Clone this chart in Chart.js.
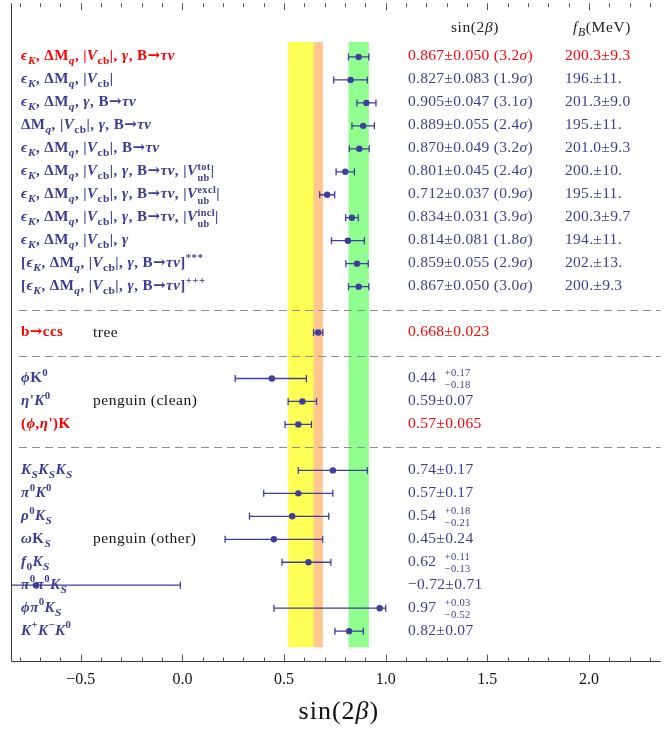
<!DOCTYPE html>
<html><head><meta charset="utf-8">
<script src="https://cdn.jsdelivr.net/npm/chart.js@4/dist/chart.umd.min.js"></script>
<style>html,body{margin:0;padding:0;background:#fff;}#wrap{width:664px;height:735px;position:relative;}</style>
</head><body><div id="wrap"><canvas id="c" width="664" height="735"></canvas></div>
<script>
// ---------- DATA ----------
const rowIndex = [0,1,2,3,4,5,6,7,8,9,10,12,14,15,16,18,19,20,21,22,23,24,25];
const labels = [
  "$ϵ$_{$K$}, ΔM_{$q$}, |$V$_{cb}|, $γ$, B→$τν$",
  "$ϵ$_{$K$}, ΔM_{$q$}, |$V$_{cb}|",
  "$ϵ$_{$K$}, ΔM_{$q$}, $γ$, B→$τν$",
  "ΔM_{$q$}, |$V$_{cb}|, $γ$, B→$τν$",
  "$ϵ$_{$K$}, ΔM_{$q$}, |$V$_{cb}|, B→$τν$",
  "$ϵ$_{$K$}, ΔM_{$q$}, |$V$_{cb}|, $γ$, B→$τν$, |$V$_^{ub|tot}|",
  "$ϵ$_{$K$}, ΔM_{$q$}, |$V$_{cb}|, $γ$, B→$τν$, |$V$_^{ub|excl}|",
  "$ϵ$_{$K$}, ΔM_{$q$}, |$V$_{cb}|, $γ$, B→$τν$, |$V$_^{ub|incl}|",
  "$ϵ$_{$K$}, ΔM_{$q$}, |$V$_{cb}|, $γ$",
  "[$ϵ$_{$K$}, ΔM_{$q$}, |$V$_{cb}|, $γ$, B→$τν$]^{***}",
  "[$ϵ$_{$K$}, ΔM_{$q$}, |$V$_{cb}|, $γ$, B→$τν$]^{+++}",
  "b→ccs",
  "$ϕ$K^{0}",
  "$η$'$K$^{0}",
  "($ϕ$,$η$')K",
  "$K$_{$S$}$K$_{$S$}$K$_{$S$}",
  "$π$^{0}$K$^{0}",
  "$ρ$^{0}$K$_{$S$}",
  "$ω$K_{$S$}",
  "$f$_{0}$K$_{$S$}",
  "$π$^{0}$π$^{0}$K$_{$S$}",
  "$ϕπ$^{0}$K$_{$S$}",
  "$K$^{+}$K$^{−}$K$^{0}"
];
const centralValues = [0.867,0.827,0.905,0.889,0.870,0.801,0.712,0.834,0.814,0.859,0.867,0.668,0.44,0.59,0.57,0.74,0.57,0.54,0.45,0.62,-0.72,0.97,0.82];
const errPlus  = [0.050,0.083,0.047,0.055,0.049,0.045,0.037,0.031,0.081,0.055,0.050,0.023,0.17,0.07,0.065,0.17,0.17,0.18,0.24,0.11,0.71,0.03,0.07];
const errMinus = [0.050,0.083,0.047,0.055,0.049,0.045,0.037,0.031,0.081,0.055,0.050,0.023,0.18,0.07,0.065,0.17,0.17,0.21,0.24,0.13,0.71,0.52,0.07];
const valueTexts = [
  "0.867±0.050 (3.2$σ$)","0.827±0.083 (1.9$σ$)","0.905±0.047 (3.1$σ$)","0.889±0.055 (2.4$σ$)",
  "0.870±0.049 (3.2$σ$)","0.801±0.045 (2.4$σ$)","0.712±0.037 (0.9$σ$)","0.834±0.031 (3.9$σ$)",
  "0.814±0.081 (1.8$σ$)","0.859±0.055 (2.9$σ$)","0.867±0.050 (3.0$σ$)",
  "0.668±0.023",
  "0.44  _^{−0.18|+0.17}","0.59±0.07","0.57±0.065",
  "0.74±0.17","0.57±0.17","0.54  _^{−0.21|+0.18}","0.45±0.24","0.62  _^{−0.13|+0.11}","−0.72±0.71","0.97  _^{−0.52|+0.03}","0.82±0.07"
];
const fbTexts = ["200.3±9.3","196.±11.","201.3±9.0","195.±11.","201.0±9.3","200.±10.","195.±11.","200.3±9.7","194.±11.","202.±13.","200.±9.3"];
const highlightedRows = [0,12,16];
const separatorRows = [11,13,17];
const groupNames = ["tree","penguin (clean)","penguin (other)"];
const groupRows = [12,15,21];
const bandLow  = [0.52,0.645,0.817];
const bandHigh = [0.66,0.691,0.917];
const headers = ["sin(2$β$)","$f$_{$B$}(MeV)"];
const axisTitle = "sin(2$β$)";

// ---------- STYLE ----------
const FAMILY = '"Liberation Serif","DejaVu Serif",serif';
const ARROW_FAMILY = '"DejaVu Serif","Liberation Serif",serif';
const BLUE = '#3C3C96';
const BAR = '#3E3E9C';
const RED = '#FF0000';
const bandColors = ['#FFFF55','#FFC68E','#90FF90'];

function parseRich(s){
  let i=0;
  function seq(stop, italic){
    const out=[]; let buf='';
    const flush=()=>{ if(buf){out.push({k:'t',t:buf,it:italic}); buf='';} };
    while(i<s.length){
      const c=s[i];
      if(stop && stop.includes(c)) break;
      if(c==='$'){flush(); italic=!italic; i++; continue;}
      if(c==='_'&&s[i+1]==='^'&&s[i+2]==='{'){flush(); i+=3; const sub=seq('|',italic); i++; const sup=seq('}',italic); i++; out.push({k:'st',sub,sup}); continue;}
      if((c==='_'||c==='^')&&s[i+1]==='{'){flush(); i+=2; const g=seq('}',italic); i++; out.push({k:c==='_'?'sub':'sup',g}); continue;}
      buf+=c; i++;
    }
    flush(); return out;
  }
  return seq('',false);
}
function drawText(ctx,t,x,y,size,it,bold,draw){
  const parts=t.split(/(→)/);
  for(const p of parts){
    if(!p) continue;
    const fam = p==='→'?ARROW_FAMILY:FAMILY;
    ctx.font=(it&&p!=='→'?'italic ':'')+(bold?'bold ':'')+size.toFixed(2)+'px '+fam;
    if(draw) ctx.fillText(p,x,y);
    x+=ctx.measureText(p).width;
  }
  return x;
}
function drawNodes(ctx,nodes,x,y,size,bold,draw){
  for(const n of nodes){
    if(n.k==='t'){
      x=drawText(ctx,n.t,x,y,size,n.it,bold,draw);
    } else if(n.k==='sub'){
      x=drawNodes(ctx,n.g,x,y+size*0.26,size*0.76,bold,draw);
    } else if(n.k==='sup'){
      x=drawNodes(ctx,n.g,x,y-size*0.42,size*0.72,bold,draw);
    } else {
      const a=drawNodes(ctx,n.sub,x,y+size*0.4,size*0.68,bold,draw);
      const b=drawNodes(ctx,n.sup,x,y-size*0.38,size*0.68,bold,draw);
      x=Math.max(a,b);
    }
  }
  return x;
}
function rich(ctx,str,x,y,size,bold,color,align,spacing){
  const nodes=parseRich(str);
  ctx.save(); ctx.fillStyle=color; ctx.textBaseline='alphabetic'; ctx.textAlign='left';
  ctx.letterSpacing=(spacing||0)+'px';
  if(align==='center'){ const w=drawNodes(ctx,nodes,0,0,size,bold,false); x-=w/2; }
  drawNodes(ctx,nodes,x,y,size,bold,true);
  ctx.restore();
}

const BAND_TOP = -0.65, BAND_BOTTOM = 25.7;

const decor = {
  id:'decor',
  beforeDatasetsDraw(chart){
    const {ctx, chartArea:a, scales:{x,y}} = chart;
    ctx.save();
    ctx.beginPath(); ctx.rect(a.left,a.top,a.right-a.left,a.bottom-a.top); ctx.clip();
    const yt=y.getPixelForValue(BAND_TOP), yb=y.getPixelForValue(BAND_BOTTOM);
    for(let k=0;k<bandLow.length;k++){
      const x0=x.getPixelForValue(bandLow[k]), x1=x.getPixelForValue(bandHigh[k]);
      ctx.fillStyle=bandColors[k]; ctx.fillRect(x0,yt,x1-x0,yb-yt);
    }
    ctx.strokeStyle='#8E8E8E'; ctx.lineWidth=1.1; ctx.setLineDash([8,5]);
    for(const r of separatorRows){
      const py=Math.round(y.getPixelForValue(r))+0.5;
      ctx.beginPath(); ctx.moveTo(a.left+8,py); ctx.lineTo(a.right,py); ctx.stroke();
    }
    ctx.setLineDash([]);
    ctx.strokeStyle=BAR; ctx.lineWidth=1.3;
    for(let k=0;k<rowIndex.length;k++){
      const py=y.getPixelForValue(rowIndex[k]);
      const xl=x.getPixelForValue(centralValues[k]-errMinus[k]);
      const xr=x.getPixelForValue(centralValues[k]+errPlus[k]);
      ctx.beginPath();
      ctx.moveTo(xl,py); ctx.lineTo(xr,py);
      ctx.moveTo(xl,py-3.5); ctx.lineTo(xl,py+3.5);
      ctx.moveTo(xr,py-3.5); ctx.lineTo(xr,py+3.5);
      ctx.stroke();
    }
    ctx.restore();
  },
  afterDatasetsDraw(chart){
    const {ctx, chartArea:a, scales:{x}} = chart;
    ctx.save();
    ctx.strokeStyle='#3A3A3A'; ctx.lineWidth=1;
    const lx=Math.round(a.left)+0.5, by=Math.round(a.bottom)-0.5;
    ctx.beginPath(); ctx.moveTo(lx,a.top); ctx.lineTo(lx,by); ctx.lineTo(a.right,by); ctx.stroke();
    ctx.strokeStyle='#555';
    for(const t of x.ticks){
      const v=t.value, r=Math.round(v*10);
      if(Math.abs(v*10-r)>1e-6) continue;
      const px=Math.round(x.getPixelForValue(v))+0.5;
      if(px<=a.left+1||px>=a.right-1) continue;
      const L=(r%5===0)?7:4;
      ctx.beginPath();
      ctx.moveTo(px,by); ctx.lineTo(px,by-L);
      ctx.moveTo(px,a.top); ctx.lineTo(px,a.top+L);
      ctx.stroke();
    }
    ctx.restore();
  },
  afterDraw(chart){
    const {ctx, chartArea:a, scales:{x,y}} = chart;
    const LX=a.left+10, VX=a.left+397, FX=a.left+554, GX=a.left+82;
    for(let k=0;k<rowIndex.length;k++){
      const r=rowIndex[k], py=y.getPixelForValue(r)+3.5;
      const col=highlightedRows.includes(r)?RED:BLUE;
      rich(ctx,labels[k],LX,py,15,true,col,null,0.45);
      rich(ctx,valueTexts[k],VX,py,15.5,false,col,null,0.3);
    }
    for(let k=0;k<fbTexts.length;k++){
      const r=rowIndex[k], py=y.getPixelForValue(r)+3.5;
      rich(ctx,fbTexts[k],FX,py,15.5,false,highlightedRows.includes(r)?RED:BLUE,null,0.3);
    }
    for(let k=0;k<groupNames.length;k++){
      rich(ctx,groupNames[k],GX,y.getPixelForValue(groupRows[k])+4,15.5,false,'#111',null,0.5);
    }
    const hy=y.getPixelForValue(-1.1);
    rich(ctx,headers[0],a.left+464,hy,15.5,false,'#222','center',0.6);
    rich(ctx,headers[1],a.left+591,hy,15.5,false,'#222','center',0.6);
    rich(ctx,axisTitle,(a.left+a.right)/2+3,719,26,false,'#111','center',1);
  }
};

const points=rowIndex.map((r,k)=>({x:centralValues[k],y:r}));

new Chart(document.getElementById('c'),{
  type:'scatter',
  data:{datasets:[{data:points, backgroundColor:BAR, borderWidth:0, pointRadius:3.2, pointHoverRadius:3.2, clip:false}]},
  options:{
    responsive:false, animation:false, events:[],
    layout:{padding:{left:11,top:0,right:0,bottom:0}},
    plugins:{legend:{display:false}, tooltip:{enabled:false}},
    scales:{
      x:{type:'linear', min:-0.843, max:2.353, position:'bottom',
        grid:{display:false, drawTicks:false}, border:{display:false},
        ticks:{stepSize:0.1, autoSkip:false, maxRotation:0, includeBounds:false, padding:8, color:'#111',
          font:{family:FAMILY, size:16},
          callback:(v)=>{const r=Math.round(v*10); if(Math.abs(v*10-r)>1e-6||r%5!==0) return ''; return (r/10).toFixed(1).replace('-','−');}},
        afterFit:(s)=>{s.height=73;}
      },
      y:{type:'linear', reverse:true, min:-2.34, max:26.343, display:false}
    }
  },
  plugins:[decor]
});
</script></body></html>
